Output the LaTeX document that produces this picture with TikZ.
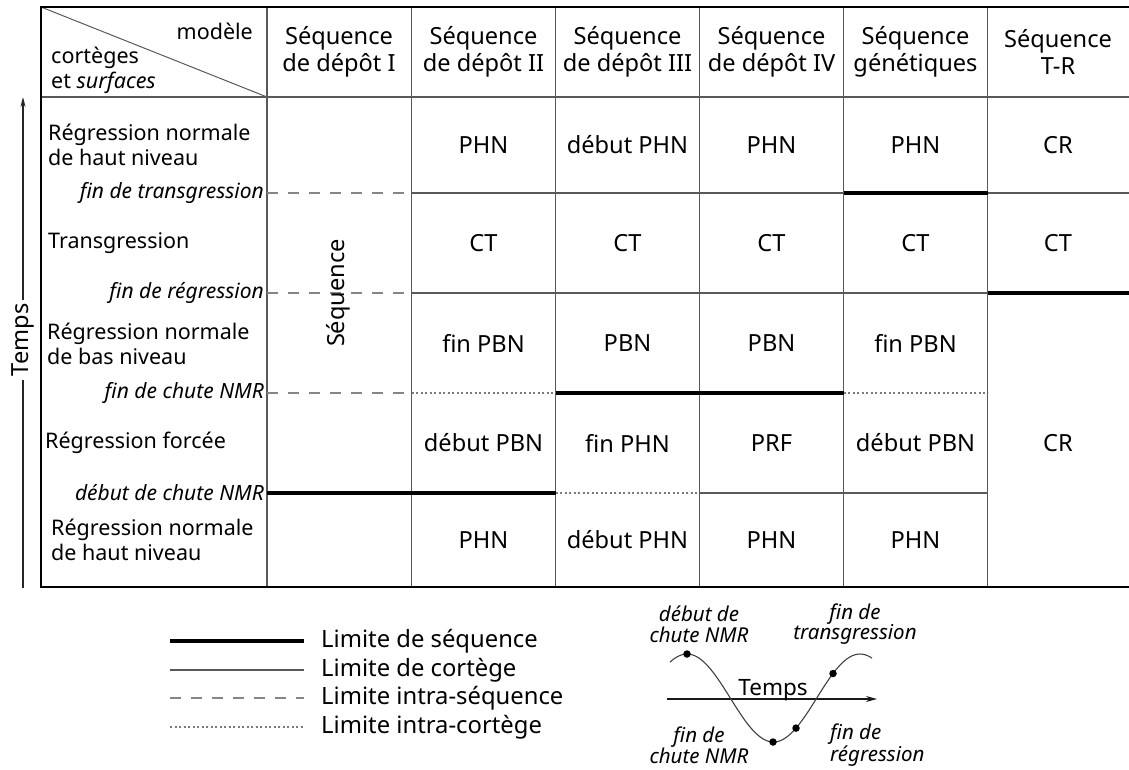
\documentclass[tikz,border=0pt]{standalone}
\usepackage{fontspec}
\setmainfont{Noto Sans}
\usetikzlibrary{arrows.meta}
\begin{document}
\begin{tikzpicture}[x=1pt,y=-1pt,
  gridline/.style={draw=black!65, line width=1.3pt},
  seqlim/.style={draw=black, line width=3.6pt},
  intraseq/.style={draw=black!48, line width=1.3pt, dash pattern=on 11pt off 10pt},
  intracort/.style={draw=black!52, line width=1.1pt, dash pattern=on 2pt off 2.5pt},
  tborder/.style={draw=black, line width=2pt},
  cell/.style={font=\fontsize{23.6}{27}\selectfont, align=center, inner sep=0pt, text=black},
  lab/.style={font=\fontsize{21.5}{25}\selectfont, align=left, anchor=west, inner sep=0pt, text=black},
  surf/.style={font=\fontsize{21}{25}\selectfont\itshape, anchor=east, inner sep=0pt, text=black},
  leg/.style={font=\fontsize{23.8}{27}\selectfont, anchor=west, inner sep=0pt, text=black},
  sinlab/.style={font=\fontsize{20.5}{20.5}\selectfont\itshape, align=center, inner sep=0pt, text=black},
  dot/.style={circle, fill=black, inner sep=0pt, minimum size=7.5pt}
]
\path[use as bounding box] (0,0) rectangle (1129,769);

% ---- table grid ----
\foreach \xx in {267,411.5,555.5,699.5,843.5,987.5}
  \draw[gridline] (\xx,7) -- (\xx,587);
\draw[gridline] (41,97) -- (1129,97);
\draw[gridline, line width=1pt] (41,7) -- (267,97);

% fin de transgression
\draw[intraseq] (267,193) -- (411.5,193);
\draw[gridline] (411.5,193) -- (843.5,193);
\draw[gridline] (987.5,193) -- (1129,193);
\draw[seqlim] (843.5,193) -- (987.5,193);
% fin de regression
\draw[intraseq] (267,293) -- (411.5,293);
\draw[gridline] (411.5,293) -- (987.5,293);
\draw[seqlim] (987.5,293) -- (1129,293);
% fin de chute NMR
\draw[intraseq] (267,393) -- (411.5,393);
\draw[intracort] (411.5,393) -- (555.5,393);
\draw[intracort] (843.5,393) -- (987.5,393);
\draw[seqlim] (555.5,393) -- (843.5,393);
% debut de chute NMR
\draw[intracort] (555.5,493) -- (699.5,493);
\draw[gridline] (699.5,493) -- (987.5,493);
\draw[seqlim] (267,493) -- (555.5,493);

\draw[tborder] (1129,7) -- (41,7) -- (41,587) -- (1129,587);

% ---- header ----
\node[lab, anchor=east] (modele) at (253,31) {modèle};
\node[lab] (cortg) at (51,70) {cortèges\\et \textit{surfaces}};
\node[cell] (h1) at (339,51.5) {Séquence\\de dépôt I};
\node[cell] (h2) at (483.5,51.5) {Séquence\\de dépôt II};
\node[cell] (h3) at (627.5,51.5) {Séquence\\de dépôt III};
\node[cell] (h4) at (771.5,51.5) {Séquence\\de dépôt IV};
\node[cell] (h5) at (915.5,51.5) {Séquence\\génétiques};
\node[cell] (h6) at (1058,51.5) {Séquence\\T-R};

% ---- left labels ----
\node[lab] (l1) at (48,145) {Régression normale\\de haut niveau};
\node[lab] (l2) at (48,243) {Transgression};
\node[lab] (l3) at (47,344) {Régression normale\\de bas niveau};
\node[lab] (l4) at (45,443) {Régression forcée};
\node[lab] (l5) at (51,540) {Régression normale\\de haut niveau};

\node[surf] (s1) at (264,193) {fin de transgression};
\node[surf] (s2) at (264,293) {fin de régression};
\node[surf] (s3) at (264,393) {fin de chute NMR};
\node[surf] (s4) at (264,493) {début de chute NMR};

% ---- cells ----
\node[cell] (c12) at (483.5,145) {PHN};
\node[cell] (c13) at (627.5,145) {début PHN};
\node[cell] (c14) at (771.5,145) {PHN};
\node[cell] (c15) at (915.5,145) {PHN};
\node[cell] (c16) at (1058,145) {CR};

\node[cell] (c22) at (483.5,243) {CT};
\node[cell] (c23) at (627.5,243) {CT};
\node[cell] (c24) at (771.5,243) {CT};
\node[cell] (c25) at (915.5,243) {CT};
\node[cell] (c26) at (1058,243) {CT};

\node[cell] (c32) at (483.5,343) {fin PBN};
\node[cell] (c33) at (627.5,343) {PBN};
\node[cell] (c34) at (771.5,343) {PBN};
\node[cell] (c35) at (915.5,343) {fin PBN};

\node[cell] (c42) at (483.5,443) {début PBN};
\node[cell] (c43) at (627.5,443) {fin PHN};
\node[cell] (c44) at (771.5,443) {PRF};
\node[cell] (c45) at (915.5,443) {début PBN};
\node[cell] (c46) at (1058,443) {CR};

\node[cell] (c52) at (483.5,540) {PHN};
\node[cell] (c53) at (627.5,540) {début PHN};
\node[cell] (c54) at (771.5,540) {PHN};
\node[cell] (c55) at (915.5,540) {PHN};

\node[cell, rotate=90] (seqv) at (338,293) {Séquence};

% ---- time axis ----
\node[cell, rotate=90, inner xsep=3pt] (temps) at (23,340) {Temps};
\coordinate (tbot) at (23,588);
\coordinate (ttop) at (23,97);
\draw[line width=1.1pt, black!85] (tbot) -- (temps.west);
\draw[line width=1.1pt, black!85, -{Stealth[length=10pt,width=5pt]}] (temps.east) -- (ttop);

% ---- legend ----
\coordinate (la1) at (170,641); \coordinate (lb1) at (304,641);
\coordinate (la2) at (170,670); \coordinate (lb2) at (304,670);
\coordinate (la3) at (170,698); \coordinate (lb3) at (304,698);
\coordinate (la4) at (170,727); \coordinate (lb4) at (304,727);
\draw[seqlim] (la1) -- (lb1);
\draw[gridline] (la2) -- (lb2);
\draw[intraseq] (la3) -- (lb3);
\draw[intracort] (la4) -- (lb4);
\node[leg] (t1) at (321,641) {Limite de séquence};
\node[leg] (t2) at (321,670) {Limite de cortège};
\node[leg] (t3) at (321,698) {Limite intra-séquence};
\node[leg] (t4) at (321,727) {Limite intra-cortège};

% ---- sine sketch ----
\coordinate (ax0) at (667,699);
\coordinate (ax1) at (877,699);
\draw[line width=1.1pt, black!90, -{Stealth[length=11pt,width=6pt]}] (ax0) -- (ax1);
\node[font=\fontsize{22.5}{25}\selectfont, anchor=base, inner sep=0pt, text=black] (tempsb) at (773,695) {Temps};
\draw[line width=1.1pt, black!75, domain=670:872, samples=90, smooth]
  plot (\x, {698-44*cos(2.08092*(\x-687))});
\node[dot] (d1) at (687,654) {};
\node[dot] (d2) at (773,742) {};
\node[dot] (d3) at (796,{698-44*cos(2.08092*109)}) {};
\node[dot] (d4) at (833,{698-44*cos(2.08092*146)}) {};
\node[sinlab] (sl1) at (699,624) {début de\\chute NMR};
\node[sinlab] (sl2) at (855,624) {fin de\\transgression};
\node[sinlab] (sl3) at (699,745) {fin de\\chute NMR};
\node[sinlab, align=left, anchor=west] (sl4) at (830,745) {fin de\\régression};
\end{tikzpicture}
\end{document}
